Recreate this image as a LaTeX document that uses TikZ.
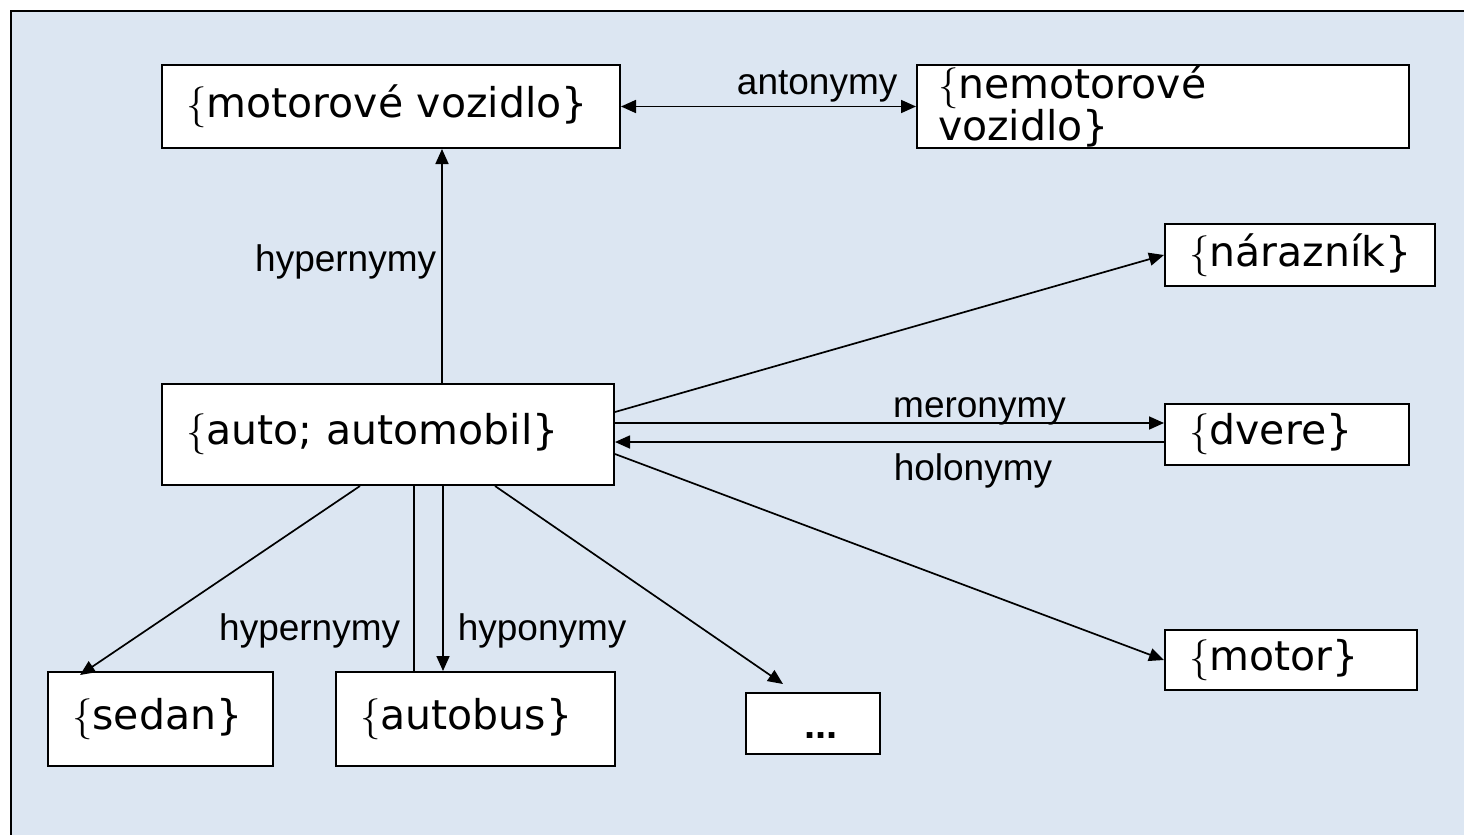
\documentclass[tikz,border=0pt]{standalone}
\usepackage{fontspec}
\newfontfamily\boxfont{DejaVu Sans}
\newfontfamily\labfont{Liberation Sans}
\usetikzlibrary{arrows.meta}
\definecolor{bgblue}{RGB}{220,230,242}
\newcommand{\myob}{{\rmfamily\{}}
\begin{document}
\begin{tikzpicture}[x=1pt,y=-1pt,
  box/.style={draw=black, fill=white, line width=2pt, inner xsep=24pt, inner ysep=0pt,
    align=left, font={\boxfont\fontsize{41}{44}\selectfont}},
  emptybox/.style={draw=black, fill=white, line width=2pt, inner sep=0pt},
  lab/.style={font={\labfont\fontsize{37}{40}\selectfont}, inner sep=0pt},
  arr/.style={line width=1.7pt, -{Triangle[length=15pt,width=13pt]}},
  darr/.style={line width=1.7pt, {Triangle[length=15pt,width=13pt]}-{Triangle[length=15pt,width=13pt]}},
  plainline/.style={line width=1.7pt}]
\useasboundingbox (0,0) rectangle (1464,835);
\clip (0,0) rectangle (1464,835);
\draw[fill=bgblue, draw=black, line width=2.5pt] (11,11) rectangle (1500,880);

% nodes
\node[box, text width=410pt, minimum height=83pt] (mv) at (391,106.5) {\myob motorové vozidlo\}};
\node[box, inner xsep=21pt, text width=450pt, minimum height=83pt,
  font={\boxfont\fontsize{41}{32}\selectfont}] (nmv) at (1163,106.5) {\myob nemotorové\\vozidlo\}};
\node[box, text width=404pt, minimum height=101pt] (auto) at (388,434.5) {\myob auto; automobil\}};
\node[box, text width=222pt, minimum height=62pt] (nar) at (1300,255) {\myob nárazník\}};
\node[box, text width=196pt, minimum height=61pt] (dv) at (1287,434.5) {\myob dvere\}};
\node[box, text width=204pt, minimum height=60pt] (mot) at (1291,660) {\myob motor\}};
\node[box, text width=177pt, minimum height=94pt] (sed) at (160.5,719) {\myob sedan\}};
\node[box, text width=231pt, minimum height=94pt] (bus) at (475.5,719) {\myob autobus\}};
\node[emptybox, minimum width=134pt, minimum height=61pt] (dots) at (813,723.5) {};
\node[font={\labfont\bfseries\fontsize{40}{42}\selectfont}, inner sep=0pt] (dotstext) at (821,736) {...};

% connectors
\draw[arr] ([xshift=54pt]auto.north) -- ([xshift=51pt]mv.south)
  node[lab, pos=0.517, anchor=east, xshift=-5pt] {hypernymy};
\draw[darr] (mv.east) -- (nmv.west)
  node[lab, pos=0.665, anchor=base, yshift=12pt] {antonymy};
\draw[arr] ([yshift=22.5pt]auto.east) -- (nar.west);
\draw[arr] ([yshift=11.5pt]auto.east) -- ([yshift=11.5pt]dv.west)
  node[lab, pos=0.664, anchor=base, yshift=6pt] {meronymy};
\draw[arr] ([yshift=-7.5pt]dv.west) -- ([yshift=-7.5pt]auto.east)
  node[lab, pos=0.348, anchor=base, yshift=-38pt] {holonymy};
\draw[arr] ([yshift=-19.5pt]auto.east) -- (mot.west);
\draw[arr] ([xshift=-28pt]auto.south) -- ([xshift=-80.5pt,yshift=-4pt]sed.north);
\draw[plainline] ([xshift=-61.5pt]bus.north) -- ([xshift=26pt]auto.south)
  node[lab, pos=0.214, anchor=east, xshift=-13pt] {hypernymy};
\draw[arr] ([xshift=55pt]auto.south) -- ([xshift=-32.5pt]bus.north)
  node[lab, pos=0.786, anchor=west, xshift=14pt] {hyponymy};
\draw[arr] ([xshift=107pt]auto.south) -- ([xshift=-30pt,yshift=8pt]dots.north);
\end{tikzpicture}
\end{document}
